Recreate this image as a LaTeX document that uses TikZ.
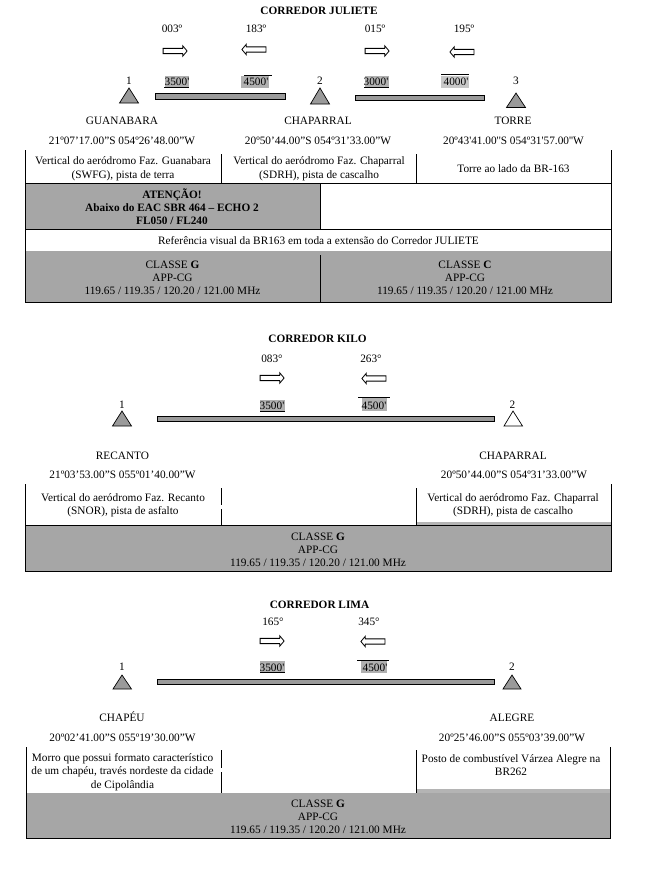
\documentclass[tikz,border=0pt]{standalone}
\usepackage{fontspec}
\setmainfont{Liberation Serif}[Ligatures=TeXOff]
\usetikzlibrary{shapes.arrows}
\definecolor{band}{HTML}{A6A6A6}
\definecolor{strip}{HTML}{B4B4B4}
\definecolor{alt}{HTML}{B0B0B0}
\definecolor{altlight}{HTML}{C8C8C8}
\definecolor{barfill}{HTML}{9A9A9A}
\tikzset{
  lbl/.style={inner sep=0pt,yshift=-1.5pt,font=\fontsize{11.3}{13}\selectfont,text height=8pt,text depth=2.5pt},
  bold/.style={lbl,font=\fontsize{11.3}{13}\selectfont\bfseries},
  multi/.style={inner sep=0pt,yshift=-1pt,align=center,font=\fontsize{11.3}{13.5}\selectfont},
  tight/.style={inner sep=0pt,yshift=-0.5pt,align=center,font=\fontsize{11.3}{13}\selectfont},
  rightarrow/.style={draw=black,line width=0.8pt,fill=white,shape=single arrow,inner sep=2.2pt,minimum height=24pt,minimum width=10.5pt,single arrow head extend=2.6pt,single arrow tip angle=100,single arrow head indent=0pt},
  leftarrow/.style={rightarrow,shape border rotate=180},
  rule/.style={line width=0.8pt,black},
  barbox/.style={draw=black,line width=0.9pt,fill=barfill},
  wpt/.style={draw=black,line width=0.7pt,fill=barfill,line join=miter},
  wptopen/.style={draw=black,line width=0.7pt,fill=white}
}
\begin{document}
\begin{tikzpicture}[x=1pt,y=-1pt]
\useasboundingbox (0,0) rectangle (665,892);

% ===== JULIETE =====
\fill[band] (25.7,183) rectangle (320,229);
\fill[band] (25.7,251) rectangle (611,302);
\draw[rule] (25.7,150) -- (25.7,302) -- (611,302) -- (611,150);
\draw[rule] (221.5,154) -- (221.5,183);
\draw[rule] (416.6,154) -- (416.6,183);
\draw[rule] (25.7,183) -- (611,183);
\draw[rule] (25.7,229) -- (611,229);
\draw[rule] (320,183) -- (320,229);
\draw[rule] (320,255) -- (320,302);

\node[bold] (jt) at (319,10) {CORREDOR JULIETE};
\node[lbl] (jh1) at (172,28) {003º};
\node[lbl] (jh2) at (256,28) {183º};
\node[lbl] (jh3) at (375,28) {015º};
\node[lbl] (jh4) at (464,28) {195º};
\node[rightarrow] (ja1) at (174,51) {};
\node[leftarrow] (ja2) at (255,49.5) {};
\node[rightarrow] (ja3) at (376,51) {};
\node[leftarrow] (ja4) at (463,52) {};
\fill[alt] (165,75.5) rectangle (189,87);
\fill[alt] (241,76) rectangle (269,87.5);
\fill[alt] (365,75.5) rectangle (389,87);
\fill[altlight] (441,75.5) rectangle (469,87.5);
\node[lbl] (ja1t) at (177,81) {3500'};
\node[lbl] (ja2t) at (256,81) {4500'};
\node[lbl] (ja3t) at (376,81) {3000'};
\node[lbl] (ja4t) at (456,81) {4000'};
\draw[rule] (164,87) -- (189,87);
\draw[rule] (244,75) -- (272,75);
\draw[rule] (364,87) -- (389,87);
\draw[rule] (441,74.8) -- (469,74.8);
\node[lbl] (jn1) at (129,80.5) {1};
\node[lbl] (jn2) at (320,80.5) {2};
\node[lbl] (jn3) at (516,80.5) {3};
\draw[wpt] (129,88) -- (138.5,103) -- (119.5,103) -- cycle;
\draw[wpt] (320,88) -- (329.5,104) -- (310.5,104) -- cycle;
\draw[wpt] (516,93) -- (525.5,107.5) -- (506.5,107.5) -- cycle;
\draw[barbox] (155,93.5) rectangle (285,99.5);
\draw[barbox] (355,95) rectangle (484,100.5);
\node[lbl] (jp1) at (122,120.5) {GUANABARA};
\node[lbl] (jp2) at (318,120.5) {CHAPARRAL};
\node[lbl] (jp3) at (513,120.5) {TORRE};
\node[lbl] (jc1) at (122,140.5) {21º07’17.00”S 054º26’48.00”W};
\node[lbl] (jc2) at (318,140.5) {20º50’44.00”S 054º31’33.00”W};
\node[lbl] (jc3) at (513.5,140.5) {20º43'41.00''S 054º31'57.00''W};
\node[multi] (jd1) at (123,168) {Vertical do aeródromo Faz. Guanabara\\(SWFG), pista de terra};
\node[multi] (jd2) at (319,168) {Vertical do aeródromo Faz. Chaparral\\(SDRH), pista de cascalho};
\node[multi] (jd3) at (513.5,167.5) {Torre ao lado da BR-163};
\node[tight,font=\fontsize{11.3}{13}\selectfont\bfseries] (jw) at (172,206) {ATENÇÃO!\\Abaixo do EAC SBR 464 – ECHO 2\\FL050 / FL240};
\node[lbl] (jv) at (318.5,240) {Referência visual da BR163 em toda a extensão do Corredor JULIETE};
\node[tight] (jg) at (172.5,277) {CLASSE \textbf{G}\\APP-CG\\119.65 / 119.35 / 120.20 / 121.00 MHz};
\node[tight] (jg2) at (465,277) {CLASSE \textbf{C}\\APP-CG\\119.65 / 119.35 / 120.20 / 121.00 MHz};

% ===== KILO =====
\fill[band] (25.7,525) rectangle (611,571);
\fill[strip] (416.6,522) rectangle (611,525);
\draw[rule] (25.7,484) -- (25.7,571) -- (611,571) -- (611,484);
\draw[rule] (221.5,488) -- (221.5,505);
\draw[rule] (221.5,509) -- (221.5,525);
\draw[rule] (416.6,488) -- (416.6,525);
\draw[rule] (25.7,525) -- (611,525);

\node[bold] (kt) at (317.5,338) {CORREDOR KILO};
\node[lbl] (kh1) at (272,358) {083°};
\node[lbl] (kh2) at (371,358) {263°};
\node[rightarrow] (ka1) at (271,378) {};
\node[leftarrow] (ka2) at (375,378.5) {};
\fill[alt] (260,400) rectangle (285,411);
\fill[alt] (362,398) rectangle (387,411);
\node[lbl] (ka1t) at (272,405) {3500'};
\node[lbl] (ka2t) at (374,405) {4500'};
\draw[rule] (260,411) -- (285,411);
\draw[rule] (358,397.5) -- (390,397.5);
\node[lbl] (kn1) at (122,404.5) {1};
\node[lbl] (kn2) at (512.5,404.5) {2};
\draw[wpt] (122,411) -- (131.5,426) -- (112.5,426) -- cycle;
\draw[wptopen] (513,411) -- (522.5,426) -- (504,426) -- cycle;
\draw[barbox] (157,416.5) rectangle (494,421);
\node[lbl] (kp1) at (122.5,455) {RECANTO};
\node[lbl] (kp2) at (513,455) {CHAPARRAL};
\node[lbl] (kc1) at (122.5,474) {21º03’53.00”S 055º01’40.00”W};
\node[lbl] (kc2) at (514,474) {20º50’44.00”S 054º31’33.00”W};
\node[multi] (kd1) at (123,504.5) {Vertical do aeródromo Faz. Recanto\\(SNOR), pista de asfalto};
\node[multi] (kd2) at (513,504.5) {Vertical do aeródromo Faz. Chaparral\\(SDRH), pista de cascalho};
\node[tight] (kg) at (318,549) {CLASSE \textbf{G}\\APP-CG\\119.65 / 119.35 / 120.20 / 121.00 MHz};

% ===== LIMA =====
\fill[band] (26.5,793) rectangle (610,838);
\fill[strip] (416,789) rectangle (610,793);
\draw[rule] (26.5,747) -- (26.5,838) -- (610,838) -- (610,747);
\draw[rule] (221,750) -- (221,768);
\draw[rule] (221,772) -- (221,793);
\draw[rule] (416,750) -- (416,793);

\node[bold] (lt) at (319.5,604.5) {CORREDOR LIMA};
\node[lbl] (lh1) at (273,621) {165°};
\node[lbl] (lh2) at (369,621) {345°};
\node[rightarrow] (la1) at (271,641) {};
\node[leftarrow] (la2) at (374,641.5) {};
\fill[alt] (260,661) rectangle (285,672);
\fill[alt] (361,661) rectangle (387,673);
\node[lbl] (la1t) at (272,667) {3500'};
\node[lbl] (la2t) at (375,667) {4500'};
\draw[rule] (260,672.5) -- (285,672.5);
\draw[rule] (357,660) -- (389,660);
\node[lbl] (ln1) at (122,666.5) {1};
\node[lbl] (ln2) at (512,666.5) {2};
\draw[wpt] (122,675) -- (131.5,689) -- (113,689) -- cycle;
\draw[wpt] (512,675) -- (521,689) -- (503,689) -- cycle;
\draw[barbox] (157,679) rectangle (494,684);
\node[lbl] (lp1) at (122,717) {CHAPÉU};
\node[lbl] (lp2) at (512,717) {ALEGRE};
\node[lbl] (lc1) at (122.5,737) {20º02’41.00”S 055º19’30.00”W};
\node[lbl] (lc2) at (512,737) {20º25’46.00”S 055º03’39.00”W};
\node[multi] (ld1) at (122.5,771) {Morro que possui formato característico\\de um chapéu, través nordeste da cidade\\de Cipolândia};
\node[multi] (ld2) at (511,764) {Posto de combustível Várzea Alegre na\\BR262};
\node[tight] (lg) at (318,816) {CLASSE \textbf{G}\\APP-CG\\119.65 / 119.35 / 120.20 / 121.00 MHz};
\end{tikzpicture}
\end{document}
